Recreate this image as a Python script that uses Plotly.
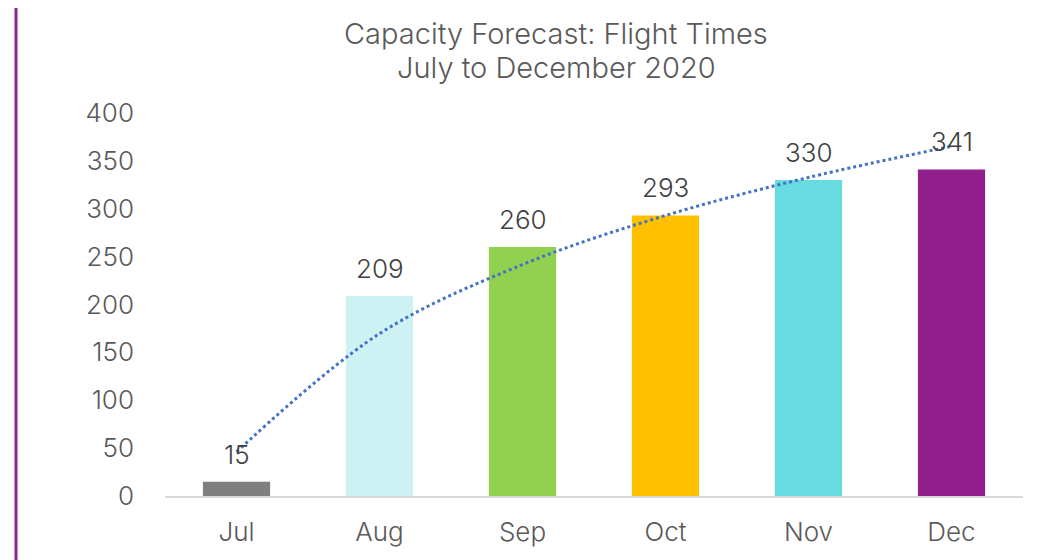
import numpy as np
import plotly.graph_objects as go

months = ["Jul", "Aug", "Sep", "Oct", "Nov", "Dec"]
flights = [15, 209, 260, 293, 330, 341]
bar_colors = ["#7F7F7F", "#CEF2F3", "#92D050", "#FFC000", "#67DBE0", "#931F8D"]
y_ticks = [0, 50, 100, 150, 200, 250, 300, 350, 400]
title_lines = ["Capacity Forecast: Flight Times", "July to December 2020"]

# Logarithmic trendline fitted to the data (as in Excel)
idx = np.arange(1, len(flights) + 1)
a, b = np.polyfit(np.log(idx), np.array(flights, dtype=float), 1)
trend = a * np.log(idx) + b

FONT = "Inter"
FW = 300
W, H = 1048, 560
OFF = 8  # page body offset
L, R, T, B = 165 - OFF, 25 + OFF, 113 - OFF, 64 + OFF

fig = go.Figure()
fig.add_trace(go.Bar(
    x=months, y=flights, marker_color=bar_colors, marker_line_width=0,
    showlegend=False, hoverinfo="x+y",
))
fig.add_trace(go.Scatter(
    x=months, y=trend, mode="lines", line=dict(color="#4472C4", width=3, dash="dot", shape="spline"),
    showlegend=False, hoverinfo="skip",
))
for m, v in zip(months, flights):
    fig.add_annotation(x=m, y=v, text=str(v), showarrow=False, yanchor="bottom", yshift=10,
                       font=dict(family=FONT, size=26, color="#404040", weight=FW))

ph = H - T - B
pw = W - L - R
# title lines (centred at x=556, y=33 / 66 on screen)
for line, ycen in zip(title_lines, [34, 67]):
    fig.add_annotation(xref="paper", yref="paper", x=(556 - 165) / pw, y=(496 - ycen) / ph,
                       text=line, showarrow=False, xanchor="center", yanchor="middle",
                       font=dict(family=FONT, size=29, color="#595959", weight=FW))

fig.add_shape(type="line", xref="paper", yref="paper",
              x0=(16 - 165) / pw, x1=(16 - 165) / pw,
              y0=-(B + 20) / ph, y1=(H - B + 20) / ph,
              line=dict(color="#93208E", width=3), layer="above")

fig.update_layout(
    width=W, height=H,
    margin=dict(l=L, r=R, t=T, b=B),
    paper_bgcolor="white", plot_bgcolor="white",
    bargap=0.53,
    font=dict(family=FONT, size=26, color="#595959", weight=FW),
)
fig.update_xaxes(showline=True, linecolor="#D9D9D9", linewidth=2, showgrid=False,
                 ticks="", tickfont=dict(family=FONT, size=26, color="#595959", weight=FW),
                 ticklabelstandoff=12)
fig.update_yaxes(range=[0, 400], tickvals=y_ticks, showgrid=False, zeroline=False,
                 showline=False, ticks="", tickfont=dict(family=FONT, size=26, color="#595959", weight=FW),
                 ticklabelstandoff=30)

fig.write_html("out.html")
